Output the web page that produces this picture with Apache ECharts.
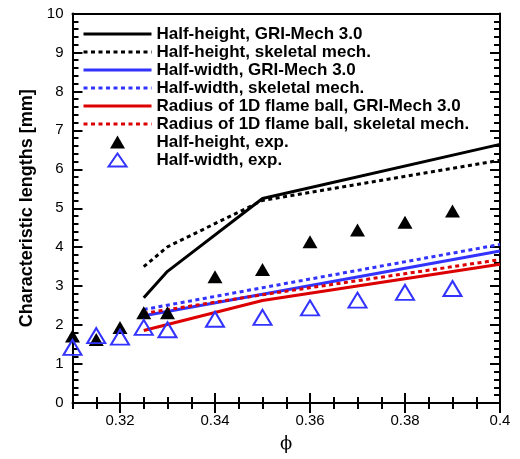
<!DOCTYPE html>
<html><head><meta charset="utf-8">
<script src="https://cdn.jsdelivr.net/npm/echarts@6/dist/echarts.min.js"></script>
<style>html,body{margin:0;padding:0;background:#fff}#c{width:520px;height:459px}</style>
</head><body><div id="c"></div>
<script>
// Experimental data
const phiExp = [0.31, 0.315, 0.32, 0.325, 0.33, 0.34, 0.35, 0.36, 0.37, 0.38, 0.39];
const halfHeightExp = [1.72, 1.63, 1.94, 2.32, 2.32, 3.24, 3.43, 4.14, 4.44, 4.64, 4.93];
const halfWidthExp = [1.43, 1.73, 1.69, 1.94, 1.88, 2.15, 2.20, 2.44, 2.64, 2.84, 2.94];
// Simulations
const phiHH = [0.325, 0.33, 0.35, 0.4];
const halfHeightGRI = [2.70, 3.38, 5.25, 6.64];
const halfHeightSkel = [3.50, 4.01, 5.20, 6.23];
const phiSim = [0.325, 0.35, 0.4];
const halfWidthGRI = [2.24, 2.79, 3.90];
const halfWidthSkel = [2.40, 2.96, 4.07];
const radiusGRI = [1.86, 2.63, 3.56];
const radiusSkel = [2.30, 2.78, 3.68];
// Axis ticks
const xMajor = [0.32, 0.34, 0.36, 0.38, 0.4];
const xTickCats = ['0.31', '0.315', '0.32', '0.325', '0.33', '0.335', '0.34', '0.345', '0.35', '0.355',
  '0.36', '0.365', '0.37', '0.375', '0.38', '0.385', '0.39', '0.395', '0.4'];
const names = [
  'Half-height, GRI-Mech 3.0',
  'Half-height, skeletal mech.',
  'Half-width, GRI-Mech 3.0',
  'Half-width, skeletal mech.',
  'Radius of 1D flame ball, GRI-Mech 3.0',
  'Radius of 1D flame ball, skeletal mech.',
  'Half-height, exp.',
  'Half-width, exp.'
];

const BLUE = '#3333ff', RED = '#dd0000', BLACK = '#000';
const FONT = 'Liberation Sans';
const GRID = { left: 72.5, right: 20, top: 13.5, bottom: 56 };
const W = 520 - GRID.left - GRID.right, H = 459 - GRID.top - GRID.bottom;
const pairs = (xs, ys) => xs.map((x, i) => [x, ys[i]]);
const dot = [4, 3.5];
function lineS(name, xs, ys, color, dashed) {
  return { name, type: 'line', data: pairs(xs, ys), symbol: 'none', silent: true,
    lineStyle: { color, width: 3, type: dashed ? dot : 'solid', cap: 'butt' }, itemStyle: { color } };
}
const tickStyle = { color: BLACK, width: 2 };
// tick-only axes placed on the opposite side with an offset so their ticks point into the plot
function xTickAxis(position, major) {
  return { type: 'category', data: xTickCats, boundaryGap: false, position, offset: -H,
    axisLine: { show: false }, axisLabel: { show: false }, splitLine: { show: false },
    axisTick: { show: true, length: major ? 10 : 6, lineStyle: tickStyle,
      interval: major ? (i => i % 4 === 2) : 0 } };
}
function yTickAxis(position) {
  return { type: 'value', min: 0, max: 10, interval: 1, position, offset: -W,
    axisLine: { show: false }, axisLabel: { show: false }, splitLine: { show: false },
    axisTick: { show: true, length: 10, lineStyle: tickStyle },
    minorTick: { show: true, splitNumber: 5, length: 6, lineStyle: tickStyle } };
}
const legendData = names.map((n, i) => {
  if (i < 6) return { name: n, itemStyle: { opacity: 0 } };
  if (i === 6) return { name: n, icon: 'path://M0,0 M26.5,13.5 L34,0.5 L41.5,13.5 Z M68,14' };
  return { name: n, icon: 'path://M0,0 M25,13.5 L34,0.5 L43,13.5 Z M68,14' };
});
const chart = echarts.init(document.getElementById('c'), null, { renderer: 'canvas' });
chart.setOption({
  animation: false,
  backgroundColor: '#fff',
  grid: GRID,
  legend: {
    orient: 'vertical', left: 82, top: 25, padding: 0, itemWidth: 68, itemHeight: 14, itemGap: 0,
    selectedMode: false, data: legendData, lineStyle: { width: 3 },
    textStyle: { fontFamily: FONT, fontWeight: 'bold', fontSize: 17, lineHeight: 18, color: '#000' }
  },
  xAxis: [
    { type: 'value', min: 0.31, max: 0.4, interval: 0.005, position: 'bottom', splitLine: { show: false },
      name: 'ϕ', nameLocation: 'middle', nameGap: 32,
      nameTextStyle: { fontFamily: 'DejaVu Serif', fontSize: 18, color: '#000' },
      axisLine: { show: true, onZero: false, lineStyle: { color: BLACK, width: 2 } },
      axisTick: { show: false },
      axisLabel: { show: true, customValues: xMajor, margin: 10, fontFamily: FONT, fontSize: 15, color: '#000',
        formatter: v => String(+v.toFixed(2)) } },
    { type: 'value', min: 0.31, max: 0.4, interval: 0.005, position: 'top', splitLine: { show: false },
      axisLine: { show: true, onZero: false, lineStyle: { color: BLACK, width: 2 } },
      axisTick: { show: false }, axisLabel: { show: false } },
    xTickAxis('top', true), xTickAxis('top', false),
    xTickAxis('bottom', true), xTickAxis('bottom', false)
  ],
  yAxis: [
    { type: 'value', position: 'left', min: 0, max: 10, interval: 1, splitLine: { show: false },
      name: 'Characteristic lengths [mm]', nameLocation: 'middle', nameGap: 33,
      nameTextStyle: { fontFamily: FONT, fontWeight: 'bold', fontSize: 18, color: '#000' },
      axisLine: { show: true, onZero: false, lineStyle: { color: BLACK, width: 2 } },
      axisTick: { show: false },
      axisLabel: { margin: 9, fontFamily: FONT, fontSize: 15, color: '#000' } },
    { type: 'value', position: 'right', min: 0, max: 10, interval: 1, splitLine: { show: false },
      axisLine: { show: true, onZero: false, lineStyle: { color: BLACK, width: 2 } },
      axisTick: { show: false }, axisLabel: { show: false } },
    yTickAxis('right'), yTickAxis('left')
  ],
  series: [
    lineS(names[0], phiHH, halfHeightGRI, BLACK, false),
    lineS(names[1], phiHH, halfHeightSkel, BLACK, true),
    lineS(names[2], phiSim, halfWidthGRI, BLUE, false),
    lineS(names[3], phiSim, halfWidthSkel, BLUE, true),
    lineS(names[4], phiSim, radiusGRI, RED, false),
    lineS(names[5], phiSim, radiusSkel, RED, true),
    { name: names[6], type: 'scatter', data: pairs(phiExp, halfHeightExp), symbol: 'triangle', symbolSize: [15, 13],
      itemStyle: { color: BLACK, opacity: 1 }, z: 3 },
    { name: names[7], type: 'scatter', data: pairs(phiExp, halfWidthExp), symbol: 'triangle', symbolSize: [18, 15],
      itemStyle: { color: 'rgba(255,255,255,0)', borderColor: BLUE, borderWidth: 2, opacity: 1 }, z: 4 }
  ]
});
</script></body></html>
